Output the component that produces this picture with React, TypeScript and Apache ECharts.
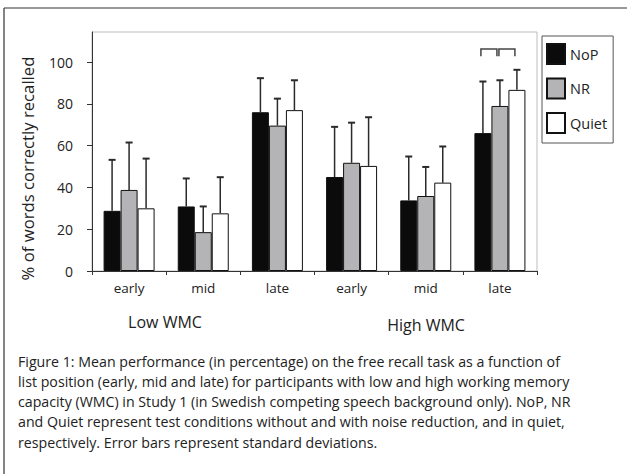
import React, { useEffect, useRef } from "react";
import * as echarts from "echarts";

const categories = ["early", "mid", "late", "early", "mid", "late"];
const conditions = ["NoP", "NR", "Quiet"];
const nopMeans = [28.8, 30.9, 76.0, 45.0, 33.8, 66.0];
const nrMeans = [38.8, 18.6, 69.6, 51.8, 35.9, 79.0];
const quietMeans = [30.0, 27.6, 77.0, 50.3, 42.3, 86.7];
const nopSD = [24.4, 13.4, 16.3, 24.0, 21.0, 24.7];
const nrSD = [22.7, 12.3, 12.9, 19.2, 13.9, 12.3];
const quietSD = [23.8, 17.3, 14.3, 23.3, 17.3, 9.6];
const yTicks = [0, 20, 40, 60, 80, 100];
const yMax = 114.4;
// significance brackets: [category index, from condition, to condition, level]
const brackets = [
  [5, 0, 1, 106.3],
  [5, 1, 2, 106.3],
];
const groupLabels = ["Low WMC", "High WMC"];
const captionLines = [
  "Figure 1: Mean performance (in percentage) on the free recall task as a function of",
  "list position (early, mid and late) for participants with low and high working memory",
  "capacity (WMC) in Study 1 (in Swedish competing speech background only). NoP, NR",
  "and Quiet represent test conditions without and with noise reduction, and in quiet,",
  "respectively. Error bars represent standard deviations.",
];
const yTitle = "% of words correctly recalled";

const FONT = "Open Sans";
const BAR_W = 17;
const fills = ["#0b0b0b", "#b4b4b6", "#ffffff"];

export default function App() {
  const ref = useRef<HTMLDivElement>(null);
  useEffect(() => {
    if (!ref.current) return;
    const chart = echarts.init(ref.current, undefined, { renderer: "svg" });
    const means = [nopMeans, nrMeans, quietMeans];
    const sds = [nopSD, nrSD, quietSD];

    const barSeries = conditions.map((name, k) => ({
      name,
      type: "bar",
      data: means[k],
      barWidth: BAR_W,
      barGap: "0%",
      itemStyle: { color: fills[k], borderColor: "#111", borderWidth: 1 },
      z: 2,
    }));

    const errSeries = conditions.map((name, k) => ({
      name: name + " SD",
      type: "custom",
      z: 3,
      data: means[k].map((m, i) => [i, m, sds[k][i]]),
      encode: { x: 0, y: 1 },
      renderItem: (params: any, api: any) => {
        const i = api.value(0);
        const m = api.value(1);
        const sd = api.value(2);
        const b = api.coord([i, m]);
        const t = api.coord([i, m + sd]);
        const x = b[0] + (k - 1) * BAR_W;
        const style = { stroke: "#2a2a2a", lineWidth: 1.5 };
        return {
          type: "group",
          children: [
            { type: "line", shape: { x1: x, y1: b[1], x2: x, y2: t[1] }, style },
            { type: "line", shape: { x1: x - 3.5, y1: t[1], x2: x + 3.5, y2: t[1] }, style: { stroke: "#2a2a2a", lineWidth: 2 } },
          ],
        };
      },
    }));

    const bracketSeries = {
      name: "brackets",
      type: "custom",
      z: 3,
      data: brackets,
      encode: { x: 0, y: 3 },
      renderItem: (params: any, api: any) => {
        const i = api.value(0);
        const a = api.value(1);
        const c = api.value(2);
        const lvl = api.value(3);
        const p = api.coord([i, lvl]);
        const p2 = api.coord([i, lvl - 3.5]);
        const x1 = p[0] + (a - 1) * BAR_W - 2 + (a > 0 ? 1 : 0);
        const x2 = p[0] + (c - 1) * BAR_W - 3 + (c === 2 ? 1 : 0);
        const style = { stroke: "#444", lineWidth: 1.5, fill: "none" };
        return {
          type: "polyline",
          shape: { points: [[x1, p2[1]], [x1, p[1]], [x2, p[1]], [x2, p2[1]]] },
          style,
        };
      },
    };

    const graphics: any[] = [
      { type: "line", shape: { x1: 4, y1: 8, x2: 627, y2: 8 }, style: { stroke: "#333", lineWidth: 1.2 } },
      { type: "line", shape: { x1: 4, y1: 8, x2: 4, y2: 474 }, style: { stroke: "#333", lineWidth: 1.2 } },
      {
        type: "text",
        x: 27,
        y: 168.5,
        rotation: Math.PI / 2,
        style: { text: yTitle, font: `16.7px "${FONT}"`, fill: "#222", align: "center", verticalAlign: "middle" },
      },
      {
        type: "text",
        x: 165,
        y: 322,
        style: { text: groupLabels[0], font: `16px "${FONT}"`, fill: "#222", align: "center", verticalAlign: "middle" },
      },
      {
        type: "text",
        x: 426,
        y: 325,
        style: { text: groupLabels[1], font: `16px "${FONT}"`, fill: "#222", align: "center", verticalAlign: "middle" },
      },
      ...captionLines.map((t, j) => ({
        type: "text",
        x: 18,
        y: 361 + j * 20.3,
        style: { text: t, font: `14.2px "${FONT}"`, fill: "#222", align: "left", verticalAlign: "middle" },
      })),
    ];

    chart.setOption({
      animation: false,
      textStyle: { fontFamily: FONT },
      grid: {
        left: 92,
        right: 90,
        top: 32,
        bottom: 203,
        show: true,
        borderColor: "#bdbdbd",
        borderWidth: 1,
        containLabel: false,
      },
      legend: {
        data: conditions,
        orient: "vertical",
        left: 542,
        top: 36,
        itemWidth: 18,
        itemHeight: 20,
        itemGap: 12.5,
        padding: [7, 6, 9, 4],
        borderColor: "#555",
        borderWidth: 1,
        icon: "rect",
        textStyle: { fontFamily: FONT, fontSize: 14.5, color: "#222" },
        selectedMode: false,
      },
      xAxis: {
        type: "category",
        data: categories,
        axisLine: { lineStyle: { color: "#333", width: 1 } },
        axisTick: { show: true, length: 4, lineStyle: { color: "#333" } },
        axisLabel: { fontFamily: FONT, fontSize: 13.5, color: "#222", margin: 10 },
      },
      yAxis: {
        type: "value",
        min: 0,
        max: yMax,
        splitLine: { show: false },
        axisLine: { show: true, lineStyle: { color: "#333", width: 1 } },
        axisTick: { show: true, length: 5, lineStyle: { color: "#333" }, customValues: yTicks },
        axisLabel: { fontFamily: FONT, fontSize: 14, color: "#222", margin: 19, customValues: yTicks },
      },
      series: [...barSeries, ...errSeries, bracketSeries],
      graphic: graphics,
    });
    return () => chart.dispose();
  }, []);
  return <div ref={ref} style={{ position: "absolute", left: 0, top: 0, width: 627, height: 474, background: "#fff" }} />;
}
